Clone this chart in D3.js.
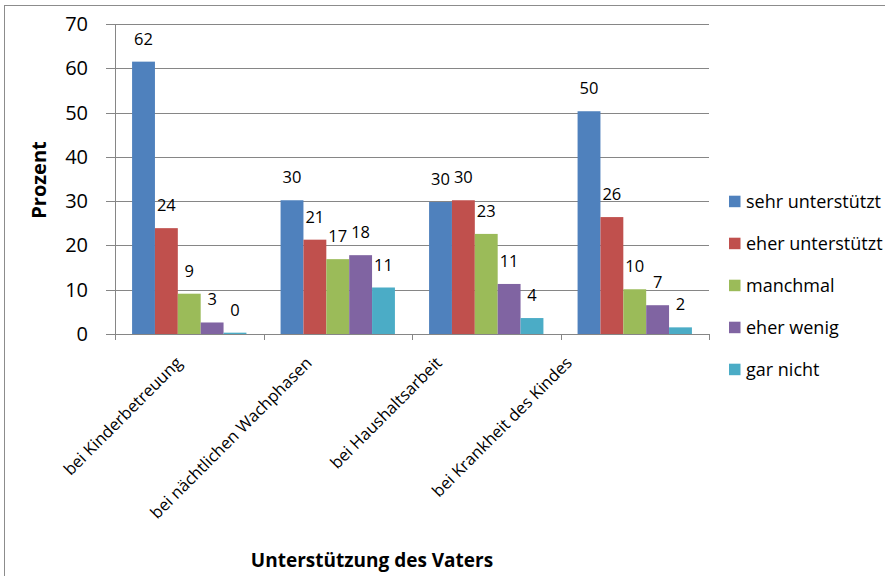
<!DOCTYPE html>
<html><head><meta charset="utf-8">
<script src="https://cdn.jsdelivr.net/npm/d3@7"></script>
<style>body{margin:0;background:#fff}svg{display:block}text{font-family:"Open Sans",sans-serif;fill:#000}</style>
</head><body><svg id="c" width="885" height="576"></svg>
<script>
const categories = ["bei Kinderbetreuung","bei nächtlichen Wachphasen","bei Haushaltsarbeit","bei Krankheit des Kindes"];
const seriesNames = ["sehr unterstützt","eher unterstützt","manchmal","eher wenig","gar nicht"];
const sehrUnterstuetzt = [61.5, 30.2, 29.8, 50.3];
const eherUnterstuetzt = [23.9, 21.3, 30.2, 26.4];
const manchmal = [9.1, 16.9, 22.6, 10.1];
const eherWenig = [2.6, 17.8, 11.3, 6.5];
const garNicht = [0.3, 10.5, 3.6, 1.5];
const yTicks = [0,10,20,30,40,50,60,70];
const colors = ["#4F81BD","#C0504D","#9BBB59","#8064A2","#4BACC6"];
const series = [sehrUnterstuetzt, eherUnterstuetzt, manchmal, eherWenig, garNicht];

const svg = d3.select("#c");
svg.append("rect").attr("x",4.5).attr("y",5.5).attr("width",900).attr("height",600)
  .attr("fill","none").attr("stroke","#8c8c8c").attr("stroke-width",1);

const L=115, R=709, T=24, B=334;
const x0 = d3.scaleBand().domain(categories).range([L,R]).paddingInner(0.23).paddingOuter(0.115);
const x1 = d3.scaleBand().domain(seriesNames).range([0,x0.bandwidth()]);
const y = d3.scaleLinear().domain([0,70]).range([B,T]);

// gridlines
svg.append("g").selectAll("line").data(yTicks).join("line")
  .attr("x1",L-9).attr("x2",R).attr("y1",d=>Math.round(y(d))+0.5).attr("y2",d=>Math.round(y(d))+0.5)
  .attr("stroke","#868686").attr("stroke-width",1);
// y axis line
svg.append("line").attr("x1",L+0.5).attr("x2",L+0.5).attr("y1",T).attr("y2",B+0.5).attr("stroke","#868686");
// x ticks
const bounds = categories.map(c=>x0(c)-x0.step()*x0.paddingInner()/2).concat([R]);
bounds[0]=L;
svg.append("g").selectAll("line").data(bounds).join("line")
  .attr("x1",d=>Math.round(d)+0.5).attr("x2",d=>Math.round(d)+0.5).attr("y1",B).attr("y2",B+6)
  .attr("stroke","#868686");
// y tick labels
svg.append("g").selectAll("text").data(yTicks).join("text")
  .attr("x",L-27).attr("y",d=>y(d)+7).attr("text-anchor","end").attr("font-size","20px").text(d=>d);

// bars
const g = svg.append("g");
series.forEach((vals,si)=>{
  g.append("g").selectAll("rect").data(vals).join("rect")
    .attr("x",(d,i)=>x0(categories[i])+x1(seriesNames[si]))
    .attr("width",x1.bandwidth())
    .attr("y",d=>y(d)).attr("height",d=>B-y(d))
    .attr("fill",colors[si]);
  g.append("g").selectAll("text").data(vals).join("text")
    .attr("x",(d,i)=>x0(categories[i])+x1(seriesNames[si])+x1.bandwidth()/2)
    .attr("y",d=>y(d)-17).attr("text-anchor","middle").attr("font-size","16.5px")
    .text(d=>Math.round(d));
});

// category labels (rotated)
const lx = d3.scalePoint().domain(categories).range([183,573]);
svg.append("g").selectAll("text").data(categories).join("text")
  .attr("transform",d=>`translate(${lx(d)},364) rotate(-45)`)
  .attr("text-anchor","end").attr("font-size","16.5px").text(d=>d);

// axis titles
svg.append("text").attr("transform","translate(46,180) rotate(-90)").attr("text-anchor","middle")
  .attr("font-size","20px").attr("font-weight","bold").text("Prozent");
svg.append("text").attr("x",372).attr("y",567).attr("text-anchor","middle")
  .attr("font-size","19px").attr("font-weight","bold").text("Unterstützung des Vaters");

// legend
const lg = svg.append("g");
seriesNames.forEach((n,i)=>{
  const cy = 201.7 + i*42;
  lg.append("rect").attr("x",729).attr("y",cy-6).attr("width",11.5).attr("height",11.5).attr("fill",colors[i]);
  lg.append("text").attr("x",746).attr("y",cy+6).attr("font-size","18px").text(n);
});
</script></body></html>
